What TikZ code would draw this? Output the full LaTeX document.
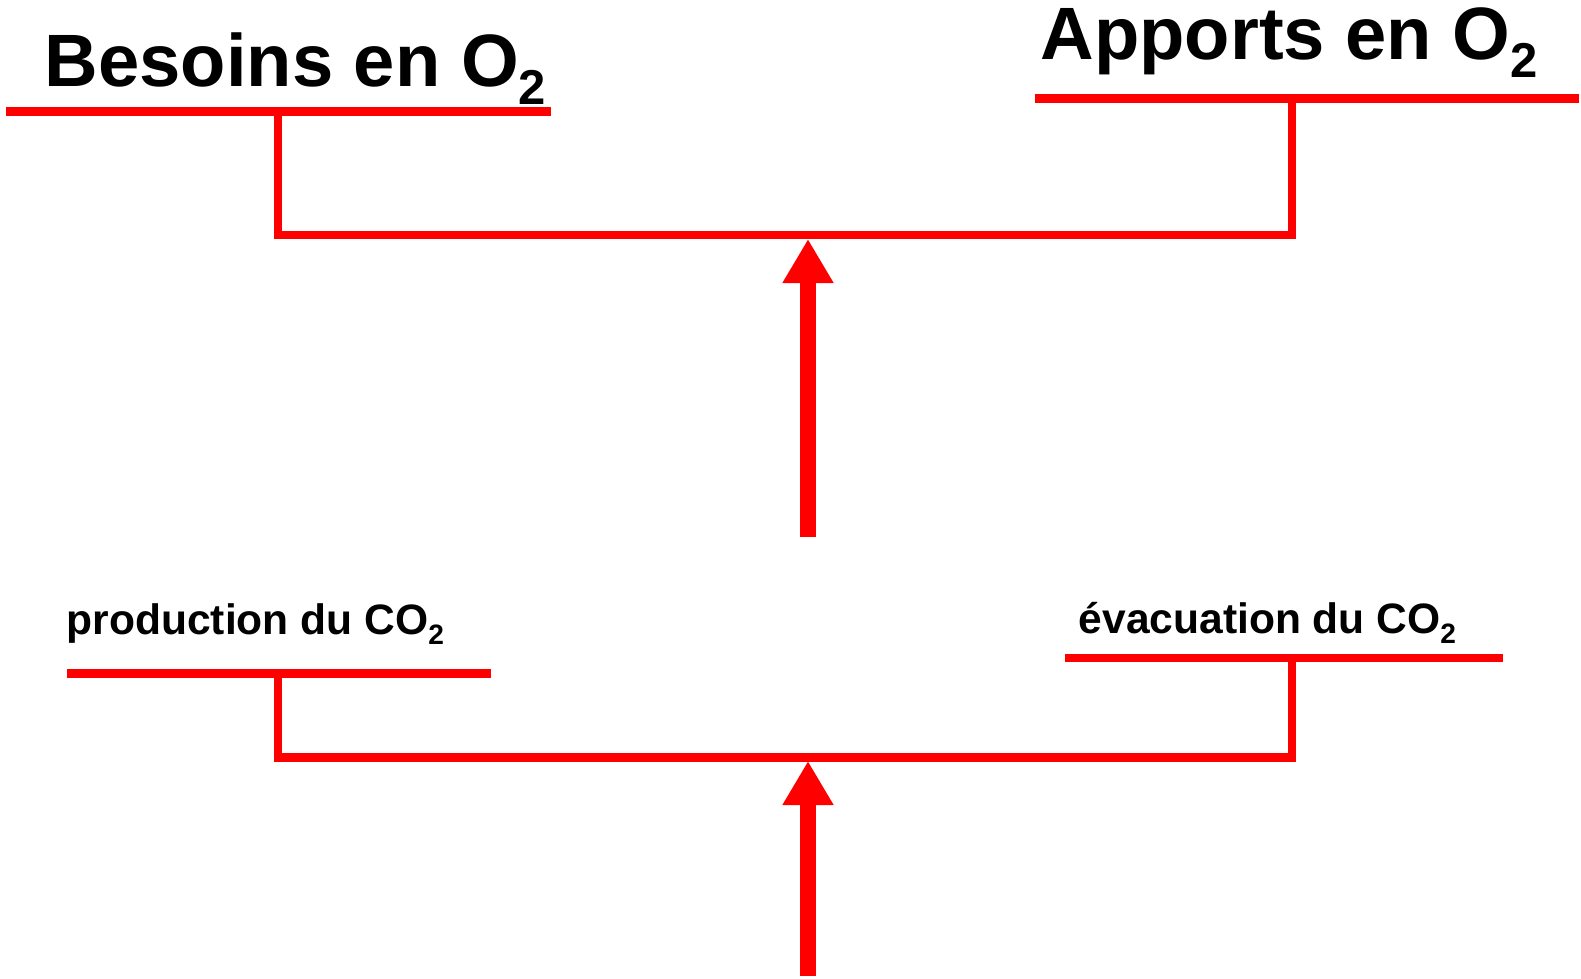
\documentclass[tikz,border=0pt]{standalone}
\usepackage{fontspec}
\setmainfont{Liberation Sans}
\usetikzlibrary{positioning}
\usetikzlibrary{arrows.meta}
\newcommand{\indice}[1]{\raisebox{-0.24em}{\scalebox{0.66}{#1}}}
\tikzstyle{grand} = [anchor=base west, inner sep=0, font=\fontsize{21.1}{25}\selectfont\bfseries]
\tikzstyle{petit} = [anchor=base west, inner sep=0, font=\fontsize{12.1}{14}\selectfont\bfseries]
\tikzstyle{trait} = [draw=red, line width=0.083cm]
\tikzstyle{fleche} = [draw=red, line width=0.16cm, -{Triangle[length=0.44cm, width=0.48cm]}]

\begin{document}
\begin{tikzpicture}[x=0.01cm, y=-0.01cm]
			\useasboundingbox (0,0) rectangle (1581,979);
			% O2
			\coordinate (besoinsG) at (6,111.5);
			\coordinate (besoinsD) at (551,111.5);
			\coordinate (apportsG) at (1035,98.5);
			\coordinate (apportsD) at (1579,98.5);
			\coordinate (besoinsT) at (278,111.5);
			\coordinate (apportsT) at (1292,98.5);
			\coordinate (jonctionH) at (808,235);
			\coordinate (pointeH) at (808,239);
			\coordinate (baseH) at (808,537);
			\node[grand](besoins) at (44,87){Besoins en O\indice{2}};
			\node[grand](apports) at (1040,60){Apports en O\indice{2}};
			\draw[trait] (besoinsG) -- (besoinsD);
			\draw[trait] (apportsG) -- (apportsD);
			\draw[trait] (besoinsT) |- (jonctionH) -| (apportsT);
			\draw[fleche] (baseH) -- (pointeH);
			% CO2
			\coordinate (productionG) at (67,673.5);
			\coordinate (productionD) at (491,673.5);
			\coordinate (evacuationG) at (1065,658);
			\coordinate (evacuationD) at (1503,658);
			\coordinate (productionT) at (278,673.5);
			\coordinate (evacuationT) at (1292,658);
			\coordinate (jonctionB) at (808,757.5);
			\coordinate (pointeB) at (808,761);
			\coordinate (baseB) at (808,976);
			\node[petit](production) at (66,634){production du CO\indice{2}};
			\node[petit](evacuation) at (1078,633){évacuation du CO\indice{2}};
			\draw[trait] (productionG) -- (productionD);
			\draw[trait] (evacuationG) -- (evacuationD);
			\draw[trait] (productionT) |- (jonctionB) -| (evacuationT);
			\draw[fleche] (baseB) -- (pointeB);
		\end{tikzpicture}
\end{document}
